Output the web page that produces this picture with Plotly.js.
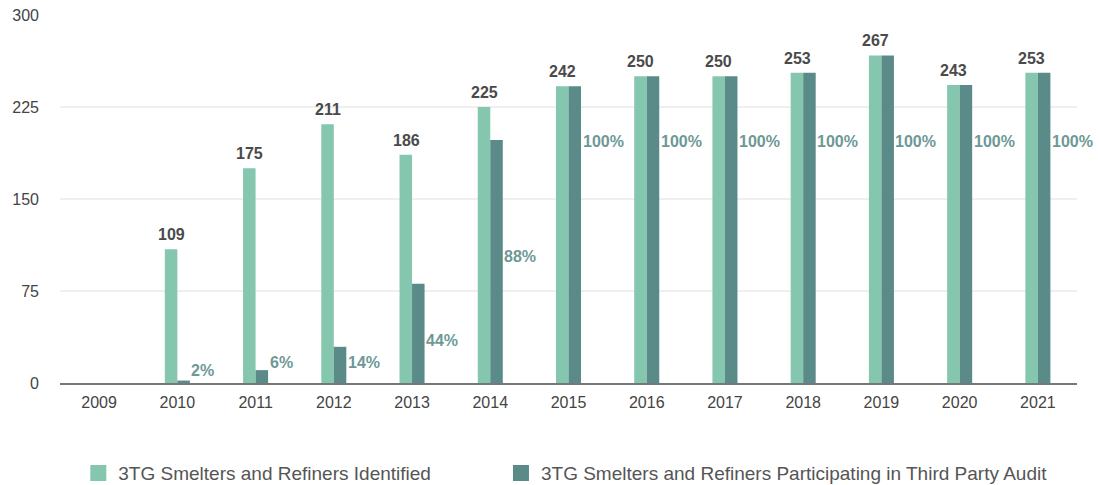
<!DOCTYPE html>
<html>
<head>
<meta charset="utf-8">
<script src="https://cdn.plot.ly/plotly-3.0.1.min.js"></script>
<style>html,body{margin:0;padding:0;background:#fff;}#chart{width:1099px;height:485px;}</style>
</head>
<body>
<div id="chart"></div>
<script>
// Data
var years = ['2009','2010','2011','2012','2013','2014','2015','2016','2017','2018','2019','2020','2021'];
var identified = [0, 109, 175, 211, 186, 225, 242, 250, 250, 253, 267, 243, 253];
var audited = [0, 2, 10.5, 29.5, 81, 198, 242, 250, 250, 253, 267, 243, 253];
var auditPct = ['', '2%', '6%', '14%', '44%', '88%', '100%', '100%', '100%', '100%', '100%', '100%', '100%'];
// label heights (layout placement of the percentage labels, in axis units)
var pctLabelY = [0, 10, 16.5, 16.5, 35, 103, 196.5, 196.5, 196.5, 196.5, 196.5, 196.5, 196.5];
var seriesNames = ['3TG Smelters and Refiners Identified', '3TG Smelters and Refiners Participating in Third Party Audit'];

var lightColor = '#84c7ae';
var darkColor = '#5b8b89';
var font = 'Liberation Sans, Arial, Helvetica, sans-serif';

var traces = [
  {type:'bar', x: years, y: identified, name: seriesNames[0], marker:{color: lightColor}, hoverinfo:'x+y', showlegend:false},
  {type:'bar', x: years, y: audited, name: seriesNames[1], marker:{color: darkColor}, hoverinfo:'x+y', showlegend:false},
  // legend keys (larger square swatches)
  {type:'scatter', mode:'markers', x:[null], y:[null], name: seriesNames[0],
    marker:{symbol:'square', size:16, color: lightColor}, showlegend:true, legend:'legend'},
  {type:'scatter', mode:'markers', x:[null], y:[null], name: seriesNames[1],
    marker:{symbol:'square', size:16, color: darkColor}, showlegend:true, legend:'legend2'}
];

var annotations = [];
years.forEach(function(yr, i){
  if (identified[i] > 0) {
    annotations.push({x: i, y: identified[i], xref:'x', yref:'y', text: String(identified[i]),
      showarrow:false, yanchor:'bottom', xanchor:'center', xshift:-6, yshift:4,
      font:{family:font, size:16, color:'#4a4a4a', weight:'bold'}});
  }
  if (auditPct[i]) {
    annotations.push({x: i, y: pctLabelY[i], xref:'x', yref:'y', text: auditPct[i],
      showarrow:false, yanchor:'middle', xanchor:'left', xshift:12,
      font:{family:font, size:16, color:'#6e9896', weight:'bold'}});
  }
});

var legendFont = {family:font, size:19, color:'#555'};

var layout = {
  width:1099, height:485,
  margin:{l:60, r:22, t:15, b:102, autoexpand:false},
  paper_bgcolor:'#fff', plot_bgcolor:'#fff',
  barmode:'group', bargap:0.68, bargroupgap:0,
  font:{family:font, size:16, color:'#444'},
  showlegend:true,
  legend:{orientation:'h', x:0.018, xanchor:'left', y:-0.245, yanchor:'middle', font:legendFont},
  legend2:{orientation:'h', x:0.4336, xanchor:'left', y:-0.245, yanchor:'middle', font:legendFont},
  xaxis:{type:'category', range:[-0.5, 12.5], showgrid:false, zeroline:false, showline:true, linecolor:'#777', linewidth:2,
    ticks:'', tickfont:{family:font, size:16, color:'#444'}, ticklabelstandoff:4, fixedrange:true},
  yaxis:{range:[0,300], tickvals:[0,75,150,225,300], showgrid:true, gridcolor:'#efefef', gridwidth:2,
    zeroline:false, showline:false, ticks:'', ticklabelstandoff:20,
    tickfont:{family:font, size:16, color:'#444'}, fixedrange:true},
  annotations: annotations
};

Plotly.newPlot('chart', traces, layout, {displayModeBar:false, staticPlot:true});
</script>
</body>
</html>
